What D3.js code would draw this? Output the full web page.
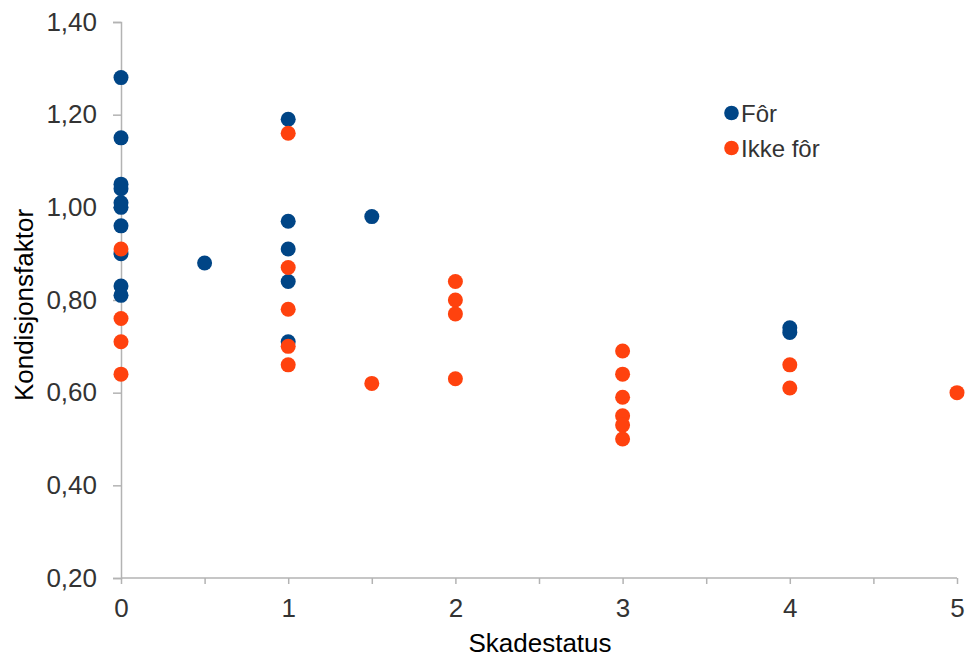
<!DOCTYPE html>
<html><head><meta charset="utf-8">
<script src="https://cdn.jsdelivr.net/npm/d3@7"></script>
<style>body{margin:0;background:#fff;}svg{display:block;font-family:"Liberation Sans",Arial,sans-serif;}</style>
</head><body>
<svg id="c" width="966" height="661"></svg>
<script>
const forX = [0,0,0,0,0,0,0,0,0,0, 0.5, 1,1,1,1,1, 1.5, 4,4];
const forY = [1.28,1.15,1.05,1.04,1.01,1.00,0.96,0.90,0.83,0.81, 0.88, 1.19,0.97,0.91,0.84,0.71, 0.98, 0.74,0.73];
const ikkeX = [0,0,0,0, 1,1,1,1,1, 1.5, 2,2,2,2, 3,3,3,3,3,3, 4,4, 5];
const ikkeY = [0.91,0.76,0.71,0.64, 1.16,0.87,0.78,0.70,0.66, 0.62, 0.84,0.80,0.77,0.63, 0.69,0.64,0.59,0.55,0.53,0.50, 0.66,0.61, 0.60];
const seriesNames = ["Fôr","Ikke fôr"];
const xTickLabels = [0,1,2,3,4,5];
const yTickValues = [0.20,0.40,0.60,0.80,1.00,1.20,1.40];

const colors = ["#004586","#ff420e"];
const svg = d3.select("#c");
const x = d3.scaleLinear().domain([0,5]).range([121,957]);
const y = d3.scaleLinear().domain([0.2,1.4]).range([578,22]);
const axisColor = "#b3b3b3";
const textColor = "#333";
const ff = "Liberation Sans, Arial, sans-serif";

// y axis
const yAxis = svg.append("g").attr("transform","translate(121,0)")
  .call(d3.axisLeft(y).tickValues(yTickValues).tickSize(8).tickPadding(16)
    .tickFormat(d => d3.format(".2f")(d).replace(".",",")));
yAxis.select(".domain").attr("stroke",axisColor).attr("stroke-width",1.5);
yAxis.selectAll(".tick line").attr("stroke",axisColor).attr("stroke-width",1.5);
yAxis.selectAll(".tick text").attr("fill",textColor).attr("font-size",26).attr("font-family",ff);

// x axis
const xAxis = svg.append("g").attr("transform","translate(0,578)")
  .call(d3.axisBottom(x).tickValues(d3.range(0,5.01,0.5)).tickSize(6).tickPadding(15)
    .tickFormat(d => Number.isInteger(d) && xTickLabels.includes(d) ? String(d) : ""));
xAxis.select(".domain").attr("stroke",axisColor).attr("stroke-width",1.5).attr("d","M121,0H957");
xAxis.selectAll(".tick line").attr("stroke",axisColor).attr("stroke-width",1.5);
xAxis.selectAll(".tick text").attr("fill",textColor).attr("font-size",26).attr("font-family",ff);

// axis titles
svg.append("text").attr("x",540).attr("y",652).attr("text-anchor","middle")
  .attr("font-size",26).attr("fill","#000").text("Skadestatus");
svg.append("text").attr("transform","translate(33,305) rotate(-90)").attr("text-anchor","middle")
  .attr("font-size",26).attr("fill","#000").text("Kondisjonsfaktor");

// points
const sets = [d3.zip(forX,forY), d3.zip(ikkeX,ikkeY)];
sets.forEach((pts,i) => {
  svg.append("g").selectAll("circle").data(pts).join("circle")
    .attr("cx",d=>x(d[0])).attr("cy",d=>y(d[1])).attr("r",7.5).attr("fill",colors[i]);
});

// legend
seriesNames.forEach((n,i) => {
  const ly = 113 + i*35;
  svg.append("circle").attr("cx",731.5).attr("cy",ly).attr("r",7.3).attr("fill",colors[i]);
  svg.append("text").attr("x",741).attr("y",ly+8.5).attr("font-size",24).attr("fill",textColor).text(n);
});
</script>
</body></html>
